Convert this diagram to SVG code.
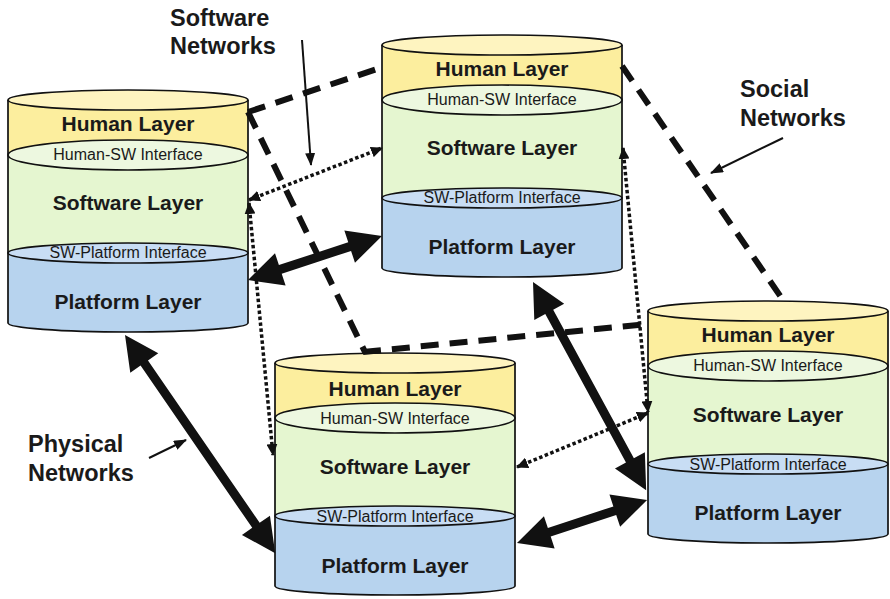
<svg xmlns="http://www.w3.org/2000/svg" xmlns:xlink="http://www.w3.org/1999/xlink" width="890" height="599" viewBox="0 0 890 599">
<style>
  .band-h{fill:#FCEE9E;}
  .band-s{fill:#E5F6D0;}
  .band-p{fill:#B7D3EE;}
  .ell-top{fill:#FEF4C0;stroke:#111;stroke-width:1.7;}
  .ell-hsw{fill:#EDF8E0;stroke:#111;stroke-width:1.7;}
  .ell-swp{fill:#C8DDF4;stroke:#111;stroke-width:1.7;}
  .edge{fill:none;stroke:#111;stroke-width:1.7;}
  .lay{font-family:"Liberation Sans",Arial,sans-serif;font-weight:bold;font-size:21px;fill:#1a1a1a;text-anchor:middle;}
  .ifc{font-family:"Liberation Sans",Arial,sans-serif;font-size:16px;fill:#1a1a1a;text-anchor:middle;}
  .lbl{font-family:"Liberation Sans",Arial,sans-serif;font-weight:bold;font-size:23.5px;fill:#1a1a1a;}
  .social{fill:none;stroke:#111;stroke-width:6;stroke-dasharray:18 11;}
  .sw{fill:none;stroke:#111;stroke-width:3.5;stroke-dasharray:3.5 2.5;marker-start:url(#dotHead);marker-end:url(#dotHead);}
  .phys{fill:#111;}
  .ptr{fill:none;stroke:#111;stroke-width:2;marker-end:url(#ptrHead);}
</style>
<defs>
  <marker id="dotHead" viewBox="0 0 12 11" refX="11" refY="5.5" markerWidth="12" markerHeight="11" markerUnits="userSpaceOnUse" orient="auto-start-reverse">
    <path d="M0,0 L12,5.5 L0,11 Z" fill="#111"/>
  </marker>
  <marker id="ptrHead" viewBox="0 0 13 10" refX="12" refY="5" markerWidth="13" markerHeight="10" markerUnits="userSpaceOnUse" orient="auto">
    <path d="M0,0 L13,5 L0,10 Z" fill="#111"/>
  </marker>
  <g id="cyl">
    <rect class="band-h" x="0" y="0" width="240" height="55"/>
    <rect class="band-s" x="0" y="55" width="240" height="98"/>
    <path class="band-p" d="M0,153 L0,223 A120,9 0 0 0 240,223 L240,153 Z"/>
    <path class="edge" d="M0,0 L0,223 A120,9 0 0 0 240,223 L240,0"/>
    <ellipse class="ell-top" cx="120" cy="0" rx="120" ry="10"/>
    <ellipse class="ell-hsw" cx="120" cy="55" rx="120" ry="15"/>
    <ellipse class="ell-swp" cx="120" cy="153" rx="120" ry="10"/>
  </g>
</defs>
<rect width="890" height="599" fill="#ffffff"/>

<g id="node-a" transform="translate(8,100)">
  <use xlink:href="#cyl" href="#cyl"/>
  <text class="lay" x="120" y="31">Human Layer</text>
  <text class="ifc" x="120" y="59.5">Human-SW Interface</text>
  <text class="lay" x="120" y="110">Software Layer</text>
  <text class="ifc" x="120" y="157.5">SW-Platform Interface</text>
  <text class="lay" x="120" y="209">Platform Layer</text>
</g>
<g id="node-b" transform="translate(382,45)">
  <use xlink:href="#cyl" href="#cyl"/>
  <text class="lay" x="120" y="31">Human Layer</text>
  <text class="ifc" x="120" y="59.5">Human-SW Interface</text>
  <text class="lay" x="120" y="110">Software Layer</text>
  <text class="ifc" x="120" y="157.5">SW-Platform Interface</text>
  <text class="lay" x="120" y="209">Platform Layer</text>
</g>
<g id="node-c" transform="translate(275,363)">
  <use xlink:href="#cyl" href="#cyl"/>
  <text class="lay" x="120" y="33">Human Layer</text>
  <text class="ifc" x="120" y="60.5">Human-SW Interface</text>
  <text class="lay" x="120" y="111">Software Layer</text>
  <text class="ifc" x="120" y="158.5">SW-Platform Interface</text>
  <text class="lay" x="120" y="210">Platform Layer</text>
</g>
<g id="node-d" transform="translate(648,311)">
  <use xlink:href="#cyl" href="#cyl"/>
  <text class="lay" x="120" y="31">Human Layer</text>
  <text class="ifc" x="120" y="59.5">Human-SW Interface</text>
  <text class="lay" x="120" y="111">Software Layer</text>
  <text class="ifc" x="120" y="158.5">SW-Platform Interface</text>
  <text class="lay" x="120" y="209">Platform Layer</text>
</g>

<g id="connectors">
  <!-- social networks: dashed -->
  <line class="social" x1="248" y1="112" x2="380" y2="68"/>
  <line class="social" x1="248" y1="112" x2="365" y2="352"/>
  <line class="social" x1="363" y1="352" x2="648" y2="324"/>
  <line class="social" x1="622" y1="66" x2="783" y2="300"/>
  <!-- software networks: dotted -->
  <line class="sw" x1="249" y1="200" x2="382" y2="148"/>
  <line class="sw" x1="249" y1="203" x2="273" y2="455"/>
  <line class="sw" x1="623" y1="148" x2="648" y2="412"/>
  <line class="sw" x1="517" y1="467" x2="648" y2="413"/>
  <!-- physical networks: thick double arrows -->
  <polygon class="phys" transform="translate(248,280) rotate(-18.18)" points="0,0 34,-17 34,-4.5 107,-4.5 107,-17 141,0 107,17 107,4.5 34,4.5 34,17"/>
  <polygon class="phys" transform="translate(125,335) rotate(55.47)" points="0,0 34,-17 34,-4.5 231,-4.5 231,-17 265,0 231,17 231,4.5 34,4.5 34,17"/>
  <polygon class="phys" transform="translate(533,282) rotate(61.48)" points="0,0 34,-17 34,-4.5 203,-4.5 203,-17 237,0 203,17 203,4.5 34,4.5 34,17"/>
  <polygon class="phys" transform="translate(517,543) rotate(-18.30)" points="0,0 34,-17 34,-4.5 103,-4.5 103,-17 137,0 103,17 103,4.5 34,4.5 34,17"/>
  <!-- label pointers -->
  <line class="ptr" x1="302" y1="40" x2="311" y2="165"/>
  <line class="ptr" x1="783" y1="138" x2="711" y2="173"/>
  <line class="ptr" x1="149" y1="458" x2="186" y2="440"/>
</g>

<g id="labels">
  <text class="lbl" x="170" y="26">Software</text>
  <text class="lbl" x="170" y="54">Networks</text>
  <text class="lbl" x="740" y="97">Social</text>
  <text class="lbl" x="740" y="126">Networks</text>
  <text class="lbl" x="28" y="452">Physical</text>
  <text class="lbl" x="28" y="481">Networks</text>
</g>
</svg>
